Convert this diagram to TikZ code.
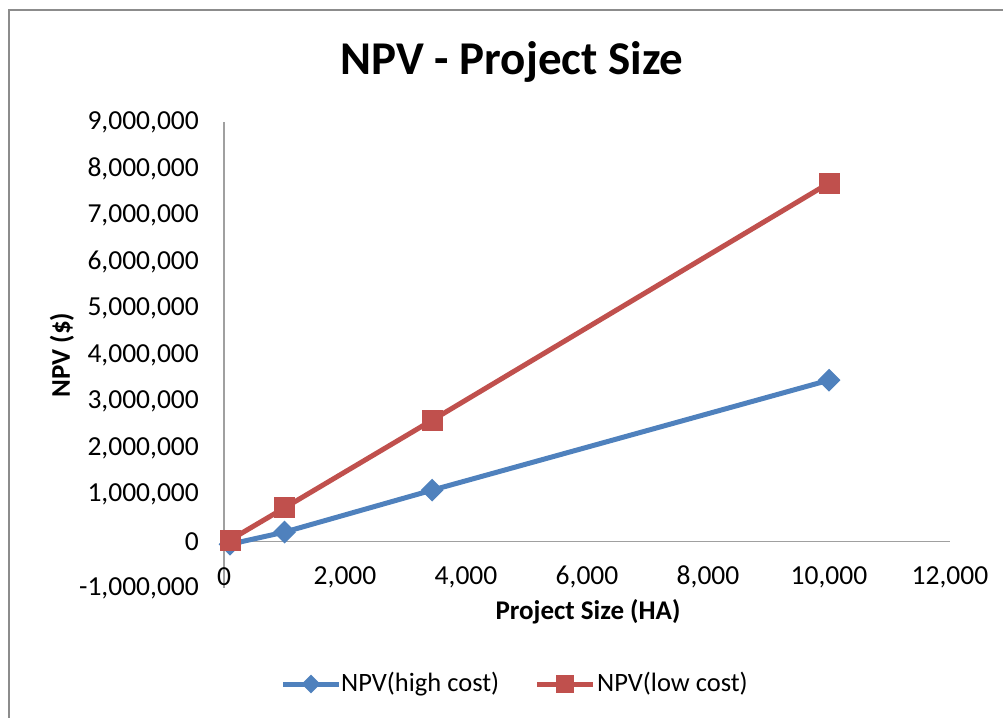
\documentclass[tikz,border=0pt]{standalone}
\usepackage{fontspec}
\setmainfont{Carlito}
\usepackage{xcolor}
\usepackage{tikz}
\usetikzlibrary{shapes.geometric}

\definecolor{hcblue}{HTML}{4F81BD}
\definecolor{lcred}{HTML}{C0504D}
\definecolor{axisgray}{HTML}{A0A0A0}
\definecolor{framegray}{HTML}{8C8C8C}

\begin{document}
\begin{tikzpicture}[
  x=1pt, y=-1pt,
  ticklabel/.style={
    font=\fontsize{27.5}{32}\selectfont,
    inner sep=0pt
  },
  axislabel/.style={
    font=\bfseries\fontsize{27}{32}\selectfont,
    inner sep=0pt
  },
  legendtext/.style={
    font=\fontsize{26.5}{31}\selectfont,
    anchor=west,
    inner sep=0pt
  },
  hcline/.style={
    hcblue,
    line width=5pt,
    line join=round
  },
  lcline/.style={
    lcred,
    line width=5pt,
    line join=round
  },
  hcmark/.style={
    diamond,
    fill=hcblue,
    minimum width=23pt,
    minimum height=23pt,
    inner sep=0pt
  },
  lcmark/.style={
    rectangle,
    fill=lcred,
    minimum width=21pt,
    minimum height=21pt,
    inner sep=0pt
  }
]

\useasboundingbox (0,0) rectangle (1003,717);

% Rahmen
\draw[framegray, line width=2pt]
  (9,730) -- (9,10) -- (1010,10);

% Titel
\node[font=\bfseries\fontsize{47}{54}\selectfont, inner sep=0pt]
  (title) at (512,62) {NPV - Project Size};

% Achsen
\coordinate (ytop) at (224,122);
\coordinate (ybot) at (224,588);
\coordinate (xleft) at (224,541.4);
\coordinate (xright) at (950,541.4);
\draw[axisgray, line width=1.5pt] (ytop) -- (ybot);
\draw[axisgray, line width=1.5pt] (xleft) -- (xright);

% Y-Beschriftung
\foreach \v/\t in {9/{9,000,000}, 8/{8,000,000}, 7/{7,000,000},
  6/{6,000,000}, 5/{5,000,000}, 4/{4,000,000}, 3/{3,000,000},
  2/{2,000,000}, 1/{1,000,000}, 0/{0}, -1/{-1,000,000}}
  \node[ticklabel, anchor=east] (ytick\v) at (199,541.4-46.6*\v) {\t};

% X-Beschriftung
\foreach \v/\t in {0/{0}, 2/{2,000}, 4/{4,000}, 6/{6,000},
  8/{8,000}, 10/{10,000}, 12/{12,000}}
  \node[ticklabel] (xtick\v) at (224+60.5*\v,577) {\t};

\node[axislabel] (xlabel) at (588,612) {Project Size (HA)};
\node[axislabel, rotate=90] (ylabel) at (62,355) {NPV (\$)};

% Datenpunkte
\begin{scope}[shift={(224,541.4)}, x=0.0605pt, y=46.6pt]
  \coordinate (hc1) at (100,-0.06);
  \coordinate (hc2) at (1000,0.2);
  \coordinate (hc3) at (3440,1.1);
  \coordinate (hc4) at (10000,3.46);
  \coordinate (lc1) at (100,0.03);
  \coordinate (lc2) at (1000,0.72);
  \coordinate (lc3) at (3440,2.6);
  \coordinate (lc4) at (10000,7.69);
\end{scope}

% NPV (high cost)
\draw[hcline] (hc1) -- (hc2) -- (hc3) -- (hc4);
\foreach \p in {hc1,hc2,hc3,hc4}
  \node[hcmark] at (\p) {};

% NPV (low cost)
\draw[lcline] (lc1) -- (lc2) -- (lc3) -- (lc4);
\foreach \p in {lc1,lc2,lc3,lc4}
  \node[lcmark] at (\p) {};

% Legende
\coordinate (hcleg1) at (283,684);
\coordinate (hcleg2) at (339,684);
\draw[hcline] (hcleg1) -- (hcleg2);
\node[hcmark, minimum width=19pt, minimum height=19pt] (hclegmark) at (311,684) {};
\node[legendtext] (hclegtext) at (341,684) {NPV(high cost)};

\coordinate (lcleg1) at (537,684);
\coordinate (lcleg2) at (593,684);
\draw[lcline] (lcleg1) -- (lcleg2);
\node[lcmark, minimum width=18pt, minimum height=18pt] (lclegmark) at (565,684) {};
\node[legendtext] (lclegtext) at (597,684) {NPV(low cost)};

\end{tikzpicture}
\end{document}
